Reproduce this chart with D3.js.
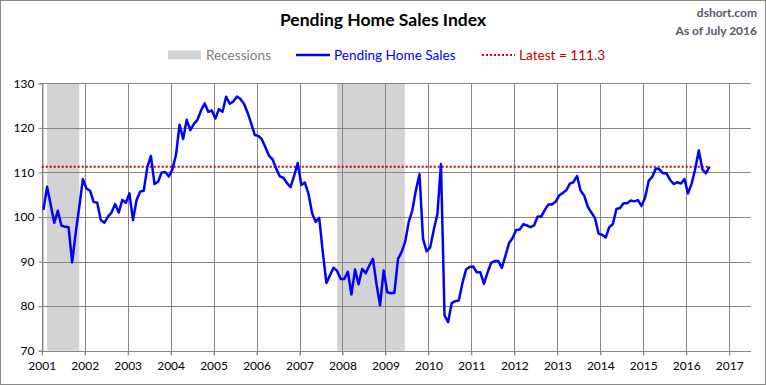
<!DOCTYPE html>
<html>
<head>
<meta charset="utf-8">
<script src="https://cdn.jsdelivr.net/npm/d3@7"></script>
<style>
  html, body { margin: 0; padding: 0; background: #fff; }
  svg { display: block; font-family: Lato, "Open Sans", sans-serif; }
</style>
</head>
<body>
<svg id="chart" width="766" height="385"></svg>
<script>
// ---- Data (monthly, Jan 2001 .. Jul 2016) ----
const startYear = 2001;
const pendingSales = [
  // 2001
  101.6, 106.8, 102.8, 98.7, 101.4, 98.1, 97.8, 97.7, 89.8, 96.5, 102.3, 108.5,
  // 2002
  106.4, 105.9, 103.4, 103.2, 99.3, 98.7, 100.1, 101.0, 102.9, 101.0, 103.8, 103.2,
  // 2003
  105.3, 99.3, 103.8, 105.7, 105.9, 111.2, 113.7, 107.4, 107.9, 110.0, 110.1, 109.1,
  // 2004
  110.7, 113.9, 120.7, 117.5, 121.8, 119.5, 120.9, 121.8, 123.9, 125.5, 123.6, 123.9,
  // 2005
  122.1, 124.2, 123.6, 127.0, 125.4, 125.9, 127.0, 126.5, 125.4, 123.4, 121.0, 118.4,
  // 2006
  118.2, 117.4, 115.6, 113.7, 112.9, 110.8, 109.1, 108.8, 107.6, 106.7, 109.3, 112.1,
  // 2007
  107.2, 107.7, 105.2, 100.9, 98.9, 99.8, 92.1, 85.2, 86.9, 88.6, 87.9, 86.1,
  // 2008
  86.1, 87.7, 82.6, 88.2, 84.9, 88.4, 87.4, 89.1, 90.6, 84.9, 80.2, 88.0,
  // 2009
  83.1, 82.9, 83.0, 90.6, 92.1, 94.4, 98.9, 101.5, 106.0, 109.6, 95.1, 92.3,
  // 2010
  93.2, 97.2, 100.6, 111.9, 77.9, 76.4, 80.7, 81.1, 81.3, 85.2, 88.2, 88.8,
  // 2011
  88.9, 87.6, 87.6, 85.0, 87.5, 89.7, 90.1, 90.1, 88.6, 91.3, 94.1, 95.3,
  // 2012
  97.1, 97.2, 98.4, 98.1, 97.7, 98.1, 100.1, 100.1, 101.6, 102.8, 102.8, 103.4,
  // 2013
  104.8, 105.4, 106.0, 107.5, 107.8, 109.2, 105.9, 104.8, 102.3, 101.0, 99.8, 96.3,
  // 2014
  96.0, 95.4, 97.7, 98.4, 101.8, 102.0, 103.1, 103.1, 103.7, 103.5, 103.8, 102.5,
  // 2015
  104.3, 108.1, 109.0, 110.9, 110.7, 109.8, 109.8, 108.3, 107.4, 107.8, 107.5, 108.5,
  // 2016
  105.3, 107.5, 110.7, 114.9, 110.7, 109.8, 111.3
];
const latestValue = 111.3;
const recessions = [[2001.125, 2001.875], [2007.875, 2009.45]];
const yearTicks = d3.range(2001, 2018);
const valueTicks = [70, 80, 90, 100, 110, 120, 130];

const titleText = "Pending Home Sales Index";
const sourceText = "dshort.com";
const asOfText = "As of July 2016";
const legendItems = ["Recessions", "Pending Home Sales", "Latest = " + latestValue.toFixed(1)];

// ---- Layout ----
const W = 766, H = 385;
const plot = { left: 41.7, right: 750.7, top: 83.3, bottom: 350.7 };
const gridColor = "#868686";

const svg = d3.select("#chart");

const x = d3.scaleLinear().domain([2001, 2017.5]).range([plot.left, plot.right]);
const y = d3.scaleLinear().domain([70, 130]).range([plot.bottom, plot.top]);

const series = pendingSales.map((v, i) => ({ t: startYear + (i + 0.5) / 12, v }));

// recession shading
svg.append("g").selectAll("rect").data(recessions).join("rect")
  .attr("x", d => x(d[0])).attr("width", d => x(d[1]) - x(d[0]))
  .attr("y", plot.top).attr("height", plot.bottom - plot.top)
  .attr("fill", "#d3d3d3");

// gridlines
svg.append("g").selectAll("line").data(valueTicks).join("line")
  .attr("x1", plot.left).attr("x2", plot.right)
  .attr("y1", d => Math.round(y(d)) + 0.5).attr("y2", d => Math.round(y(d)) + 0.5)
  .attr("stroke", gridColor).attr("stroke-width", 1);
svg.append("g").selectAll("line").data(yearTicks).join("line")
  .attr("x1", d => Math.round(x(d)) + 0.5).attr("x2", d => Math.round(x(d)) + 0.5)
  .attr("y1", plot.top).attr("y2", plot.bottom + 4)
  .attr("stroke", gridColor).attr("stroke-width", 1);

// y axis (left)
const yAxis = d3.axisLeft(y).tickValues(valueTicks).tickSize(4).tickPadding(4);
const gy = svg.append("g").attr("transform", `translate(${Math.round(plot.left) + 0.5},0)`).call(yAxis);
gy.select(".domain").attr("stroke", gridColor);
gy.selectAll(".tick line").attr("stroke", gridColor);
gy.selectAll(".tick text").attr("font-size", "12px").attr("fill", "#000")
  .attr("font-family", "Lato, sans-serif");

// x axis (bottom)
const xAxis = d3.axisBottom(x).tickValues(yearTicks).tickFormat(d3.format("d")).tickSize(4).tickPadding(6);
const gx = svg.append("g").attr("transform", `translate(0,${Math.round(plot.bottom) + 0.5})`).call(xAxis);
gx.select(".domain").attr("stroke", gridColor).attr("d", `M${plot.left},0H${plot.right}`);
gx.selectAll(".tick line").attr("stroke", gridColor);
gx.selectAll(".tick text").attr("font-size", "12px").attr("fill", "#000")
  .attr("font-family", "Lato, sans-serif");

// latest dotted line
svg.append("line")
  .attr("x1", plot.left).attr("x2", x(series[series.length - 1].t))
  .attr("y1", y(latestValue)).attr("y2", y(latestValue))
  .attr("stroke", "#cc0000").attr("stroke-width", 2).attr("stroke-dasharray", "2,2");

// main line
svg.append("path").datum(series)
  .attr("fill", "none").attr("stroke", "#0000ff").attr("stroke-width", 2.5)
  .attr("stroke-linejoin", "round")
  .attr("d", d3.line().x(d => x(d.t)).y(d => y(d.v)));

// title & annotations
svg.append("text").attr("x", 383).attr("y", 26).attr("text-anchor", "middle")
  .attr("font-size", "17.5px").attr("font-weight", "bold").attr("fill", "#000").text(titleText);
svg.append("text").attr("x", 757).attr("y", 17).attr("text-anchor", "end")
  .attr("font-size", "12px").attr("font-weight", "bold").attr("fill", "#505a6a").text(sourceText);
svg.append("text").attr("x", 757).attr("y", 35).attr("text-anchor", "end")
  .attr("font-size", "12px").attr("font-weight", "bold").attr("fill", "#505a6a").text(asOfText);

// legend
const lg = svg.append("g");
const ly = 55;
lg.append("rect").attr("x", 168).attr("y", ly - 4.5).attr("width", 33).attr("height", 9).attr("fill", "#d3d3d3");
lg.append("text").attr("x", 206).attr("y", ly + 4.8).attr("font-size", "13.6px").attr("fill", "#808080").text(legendItems[0]);
lg.append("line").attr("x1", 296).attr("x2", 330).attr("y1", ly).attr("y2", ly).attr("stroke", "#0000ff").attr("stroke-width", 2.5);
lg.append("text").attr("x", 334).attr("y", ly + 4.8).attr("font-size", "13.6px").attr("fill", "#0000ff").text(legendItems[1]);
lg.append("line").attr("x1", 482).attr("x2", 515).attr("y1", ly).attr("y2", ly).attr("stroke", "#cc0000").attr("stroke-width", 2).attr("stroke-dasharray", "2,2");
lg.append("text").attr("x", 519).attr("y", ly + 4.8).attr("font-size", "13.6px").attr("fill", "#c00000").text(legendItems[2]);

// outer border
svg.append("rect").attr("x", 0.5).attr("y", 0.5).attr("width", W - 1).attr("height", H - 1)
  .attr("fill", "none").attr("stroke", "#888");
</script>
</body>
</html>
